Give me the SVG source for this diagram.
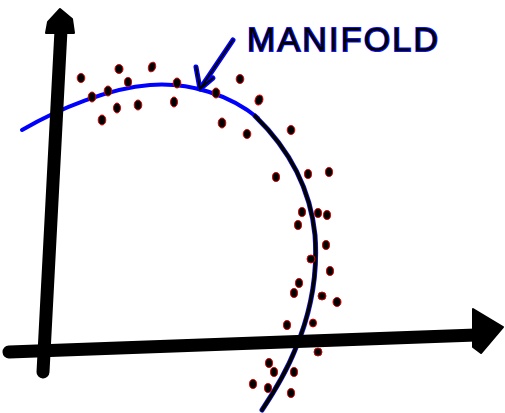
<svg xmlns="http://www.w3.org/2000/svg" width="505" height="413" viewBox="0 0 505 413">
<style>
.pt{fill:#000;stroke:#e00000;stroke-width:1}
.axis{stroke:#000;stroke-width:13;stroke-linecap:round;fill:none}
.lbl{font-family:"Liberation Sans",Arial,sans-serif;font-size:34px;font-weight:normal;fill:#000;stroke:#1010ff;stroke-width:1.8;paint-order:stroke}
</style>
<rect width="505" height="413" fill="#fff"/>
<g id="manifold-curve" fill="none" stroke-linecap="round">
<path d="M22,130 C60,108 110,88 150,85 C190,82 230,95 258,118" stroke="#0000ff" stroke-width="4"/>
<path d="M255,116 C285,145 310,185 315,235 C318,275 310,315 295,350 C285,375 272,395 262,410" stroke="#1818e0" stroke-width="5"/>
<path d="M255,116 C285,145 310,185 315,235 C318,275 310,315 295,350 C285,375 272,395 262,410" stroke="#000" stroke-width="3.6"/>
</g>
<g id="axes">
<line class="axis" x1="61" y1="30" x2="43" y2="372"/>
<polygon points="60,9 72,19 74,33 46,33 48,22" fill="#000" stroke="#000" stroke-width="2" stroke-linejoin="round"/>
<line class="axis" x1="9" y1="352" x2="476" y2="335"/>
<polygon points="473,309 503,327 481,353 473,347" fill="#000" stroke="#000" stroke-width="2" stroke-linejoin="round"/>
</g>
<g id="data-points">
<ellipse class="pt" cx="81" cy="78" rx="3.8" ry="4.5"/>
<ellipse class="pt" cx="119" cy="69" rx="4" ry="4.5"/>
<ellipse class="pt" cx="152" cy="67" rx="3.5" ry="5" transform="rotate(20 152 67)"/>
<ellipse class="pt" cx="128" cy="82" rx="3.5" ry="4.5"/>
<ellipse class="pt" cx="92" cy="97" rx="3.8" ry="5"/>
<ellipse class="pt" cx="108" cy="91" rx="3.8" ry="5"/>
<ellipse class="pt" cx="177" cy="83" rx="3.8" ry="5"/>
<ellipse class="pt" cx="102" cy="120" rx="3.8" ry="5"/>
<ellipse class="pt" cx="117" cy="108" rx="3.5" ry="5"/>
<ellipse class="pt" cx="138" cy="105" rx="3.8" ry="5"/>
<ellipse class="pt" cx="174" cy="102" rx="3.5" ry="5"/>
<ellipse class="pt" cx="216" cy="93" rx="3.8" ry="5"/>
<ellipse class="pt" cx="240" cy="79" rx="3.8" ry="4.5"/>
<ellipse class="pt" cx="259" cy="100" rx="3.8" ry="5" transform="rotate(20 259 100)"/>
<ellipse class="pt" cx="222" cy="123" rx="3.8" ry="5"/>
<ellipse class="pt" cx="247" cy="134" rx="3.8" ry="4.5"/>
<ellipse class="pt" cx="291" cy="130" rx="3.8" ry="4.5"/>
<ellipse class="pt" cx="276" cy="177" rx="3.5" ry="4.5"/>
<ellipse class="pt" cx="308" cy="174" rx="3.5" ry="4.5"/>
<ellipse class="pt" cx="329" cy="172" rx="3.5" ry="4.5"/>
<ellipse class="pt" cx="302" cy="212" rx="3.5" ry="4.5"/>
<ellipse class="pt" cx="298" cy="225" rx="3.5" ry="4.5"/>
<ellipse class="pt" cx="318" cy="213" rx="3.5" ry="4.5"/>
<ellipse class="pt" cx="327" cy="215" rx="3.5" ry="4.5"/>
<ellipse class="pt" cx="326" cy="245" rx="3.5" ry="4.5"/>
<ellipse class="pt" cx="311" cy="259" rx="4" ry="4"/>
<ellipse class="pt" cx="330" cy="271" rx="3.5" ry="4.5"/>
<ellipse class="pt" cx="299" cy="283" rx="3.5" ry="4.5"/>
<ellipse class="pt" cx="294" cy="293" rx="3.5" ry="4.5"/>
<ellipse class="pt" cx="322" cy="296" rx="4" ry="4"/>
<ellipse class="pt" cx="337" cy="302" rx="4" ry="4.5"/>
<ellipse class="pt" cx="313" cy="323" rx="3.5" ry="4"/>
<ellipse class="pt" cx="287" cy="325" rx="3.5" ry="4.5"/>
<ellipse class="pt" cx="318" cy="352" rx="4" ry="4"/>
<ellipse class="pt" cx="269" cy="363" rx="3.5" ry="4.5"/>
<ellipse class="pt" cx="274" cy="372" rx="3.5" ry="4.5"/>
<ellipse class="pt" cx="294" cy="372" rx="3.5" ry="4.5"/>
<ellipse class="pt" cx="253" cy="384" rx="3.5" ry="4.5"/>
<ellipse class="pt" cx="268" cy="388" rx="3.5" ry="4.5"/>
<ellipse class="pt" cx="291" cy="393" rx="3.5" ry="4.5"/>
</g>
<g id="label">
<text class="lbl" x="247" y="51" textLength="191" lengthAdjust="spacing">MANIFOLD</text>
<g fill="none" stroke-linecap="round" stroke-linejoin="round">
<path d="M233,40 L200,89 M196,67 L200,89 L213,78" stroke="#0000ff" stroke-width="5"/>
<path d="M233,40 L200,89 M196,67 L200,89 L213,78" stroke="#000" stroke-width="2"/>
</g>
</g>
</svg>
